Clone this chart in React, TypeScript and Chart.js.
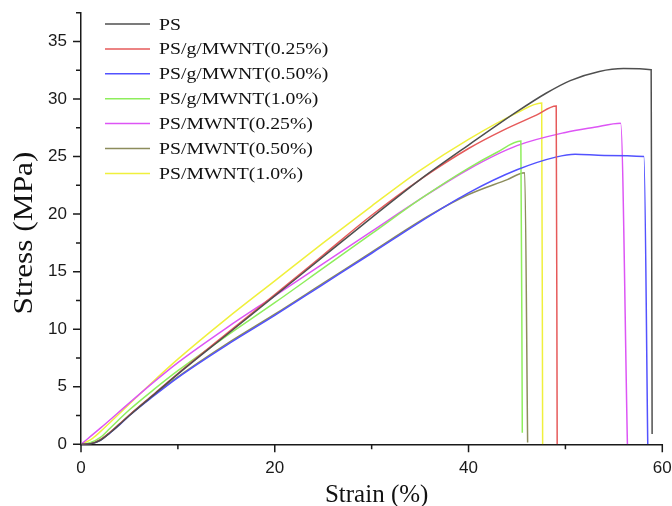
import React, { useEffect, useRef } from 'react';
import { Chart, registerables } from 'chart.js';

Chart.register(...registerables);

// ---- data (strain %, stress MPa) ----
const seriesLabels = [
  'PS',
  'PS/g/MWNT(0.25%)',
  'PS/g/MWNT(0.50%)',
  'PS/g/MWNT(1.0%)',
  'PS/MWNT(0.25%)',
  'PS/MWNT(0.50%)',
  'PS/MWNT(1.0%)',
];
const seriesColors = ['#4f4f4f', '#e65a5a', '#5252ff', '#8eee5c', '#dd55f5', '#8c8c5c', '#f0f03c'];

const strainPS = [0, 1, 2, 3, 4, 5, 7.5, 10, 15, 20, 25, 30, 35, 40, 45, 48, 50.5, 53.5, 56, 58.85, 58.95];
const stressPS = [0, 0.05, 0.35, 1.0, 1.75, 2.5, 4.3, 6.1, 9.5, 12.9, 16.3, 19.7, 23.0, 26.0, 28.9, 30.5, 31.6, 32.4, 32.65, 32.55, 0.9];

const strainG025 = [0, 1, 2, 3, 4, 5, 7.5, 10, 15, 20, 25, 30, 35, 40, 43.6, 47, 49.05, 49.15];
const stressG025 = [0, 0.05, 0.4, 1.05, 1.8, 2.55, 4.35, 6.15, 9.6, 13.0, 16.45, 19.9, 23.0, 25.7, 27.3, 28.6, 29.4, 0];

const strainG050 = [0, 1, 2, 3, 4, 5, 7.5, 10, 15, 20, 25, 30, 36, 40, 45, 49, 51, 54, 58.1, 58.5];
const stressG050 = [0, 0.05, 0.35, 1.0, 1.7, 2.5, 4.2, 5.8, 8.6, 11.2, 13.9, 16.6, 19.85, 21.85, 23.85, 24.95, 25.2, 25.1, 25.0, 0];

const strainG100 = [0, 1, 2, 3, 5, 7.5, 10, 15, 20, 25, 30, 35, 40, 43, 45.4, 45.55];
const stressG100 = [0, 0.15, 0.6, 1.4, 3.0, 4.75, 6.4, 9.4, 12.3, 15.3, 18.3, 21.3, 24.0, 25.4, 26.35, 1.0];

const strainM025 = [0, 2, 5, 7.5, 10, 15, 20, 25, 30, 35, 40, 45, 50, 53, 55.7, 56.4];
const stressM025 = [0, 1.4, 3.6, 5.4, 7.1, 10.1, 12.9, 15.7, 18.5, 21.3, 23.9, 25.95, 27.1, 27.55, 27.9, 0];

const strainM050 = [0, 1, 2, 3, 4, 5, 7.5, 10, 15, 20, 25, 30, 36, 40, 44, 45.8, 46.1];
const stressM050 = [0, 0.05, 0.4, 1.05, 1.75, 2.55, 4.25, 5.85, 8.7, 11.3, 14.0, 16.7, 19.9, 21.7, 23.0, 23.6, 0.15];

const strainM100 = [0, 1, 2, 3, 5, 7.5, 10, 15, 20, 25, 30, 35, 40, 45, 47.55, 47.65];
const stressM100 = [0, 0.4, 1.1, 1.9, 3.5, 5.5, 7.4, 10.9, 14.2, 17.5, 20.7, 23.8, 26.5, 28.8, 29.65, 0];

const seriesStrain = [strainPS, strainG025, strainG050, strainG100, strainM025, strainM050, strainM100];
const seriesStress = [stressPS, stressG025, stressG050, stressG100, stressM025, stressM050, stressM100];

const xTitle = 'Strain (%)';
const yTitle = 'Stress (MPa)';

const SERIF = "'Liberation Serif', 'Times New Roman', serif";
const SANS = "'Liberation Sans', Arial, sans-serif";

const decorPlugin = {
  id: 'decor',
  afterDraw(chart: any) {
    const { ctx, chartArea, scales } = chart;
    const xs = scales.x;
    const ys = scales.y;
    ctx.save();
    // tick marks (major longer, minor shorter)
    ctx.strokeStyle = '#1a1a1a';
    ctx.lineWidth = 1.5;
    ctx.beginPath();
    xs.ticks.forEach((t: any) => {
      const px = xs.getPixelForValue(t.value);
      const len = t.value % 20 === 0 ? 8 : 5;
      ctx.moveTo(px, chartArea.bottom);
      ctx.lineTo(px, chartArea.bottom + len);
    });
    ys.ticks.forEach((t: any) => {
      const py = ys.getPixelForValue(t.value);
      const len = t.value % 5 === 0 ? 8 : 5;
      ctx.moveTo(chartArea.left, py);
      ctx.lineTo(chartArea.left - len, py);
    });
    ctx.stroke();

    // legend
    const datasets = chart.data.datasets;
    ctx.font = `17px ${SERIF}`;
    ctx.textBaseline = 'alphabetic';
    ctx.textAlign = 'left';
    datasets.forEach((ds: any, i: number) => {
      const y = chartArea.top + 11.3 + i * 24.9;
      ctx.strokeStyle = ds.borderColor;
      ctx.lineWidth = 1.5;
      ctx.beginPath();
      ctx.moveTo(chartArea.left + 24, y);
      ctx.lineTo(chartArea.left + 69, y);
      ctx.stroke();
      ctx.save();
      ctx.translate(chartArea.left + 78, y + 5.5);
      ctx.scale(1.16, 1);
      ctx.fillStyle = '#111';
      ctx.fillText(ds.label, 0, 0);
      ctx.restore();
    });

    // axis titles
    ctx.fillStyle = '#111';
    ctx.font = `25px ${SERIF}`;
    ctx.textAlign = 'center';
    ctx.fillText(xTitle, (chartArea.left + chartArea.right) / 2 + 5, 501.5);

    ctx.save();
    ctx.translate(32, (chartArea.top + chartArea.bottom) / 2 + 4.5);
    ctx.rotate(-Math.PI / 2);
    ctx.scale(1.12, 1);
    ctx.font = `28px ${SERIF}`;
    ctx.textAlign = 'center';
    ctx.fillText(yTitle, 0, 0);
    ctx.restore();

    ctx.restore();
  },
};

export default function App() {
  const ref = useRef<HTMLCanvasElement>(null);
  useEffect(() => {
    document.body.style.margin = '0';
    const canvas = ref.current!;
    const datasets = seriesLabels.map((label, i) => ({
      label,
      data: seriesStrain[i].map((x, j) => ({ x, y: seriesStress[i][j] })),
      borderColor: seriesColors[i],
      backgroundColor: seriesColors[i],
      borderWidth: 1.5,
      pointRadius: 0,
      fill: false,
      cubicInterpolationMode: 'monotone' as const,
    }));
    const chart = new Chart(canvas, {
      type: 'line',
      data: { datasets },
      options: {
        responsive: false,
        animation: false,
        devicePixelRatio: 1,
        layout: { padding: { left: 0, top: 12.7, right: 9.7, bottom: 0 } },
        plugins: { legend: { display: false }, tooltip: { enabled: false } },
        scales: {
          x: {
            type: 'linear',
            min: 0,
            max: 60,
            border: { display: true, color: '#1a1a1a', width: 1.5 },
            grid: { display: true, drawOnChartArea: false, drawTicks: true, tickLength: 8, color: 'rgba(0,0,0,0)' },
            ticks: {
              stepSize: 10,
              autoSkip: false,
              maxRotation: 0,
              padding: 6,
              color: '#1a1a1a',
              font: { family: SANS, size: 17 },
              callback: (v: any) => (Number(v) % 20 === 0 ? String(v) : ''),
            },
            afterFit: (s: any) => {
              s.height = 506 - 444.3;
              s.paddingLeft = 0;
              s.paddingRight = 0;
            },
          },
          y: {
            type: 'linear',
            min: 0,
            max: 37.5,
            border: { display: true, color: '#1a1a1a', width: 1.5 },
            grid: { display: true, drawOnChartArea: false, drawTicks: true, tickLength: 8, color: 'rgba(0,0,0,0)' },
            ticks: {
              stepSize: 2.5,
              autoSkip: false,
              padding: 6,
              color: '#1a1a1a',
              font: { family: SANS, size: 17 },
              callback: (v: any) => (Number(v) % 5 === 0 ? String(v) : ''),
            },
            afterFit: (s: any) => {
              s.width = 81;
              s.paddingTop = 0;
              s.paddingBottom = 0;
            },
          },
        },
      },
      plugins: [decorPlugin],
    });
    return () => chart.destroy();
  }, []);
  return (
    <div style={{ width: 672, height: 506 }}>
      <canvas ref={ref} width={672} height={506} style={{ display: 'block' }} />
    </div>
  );
}
